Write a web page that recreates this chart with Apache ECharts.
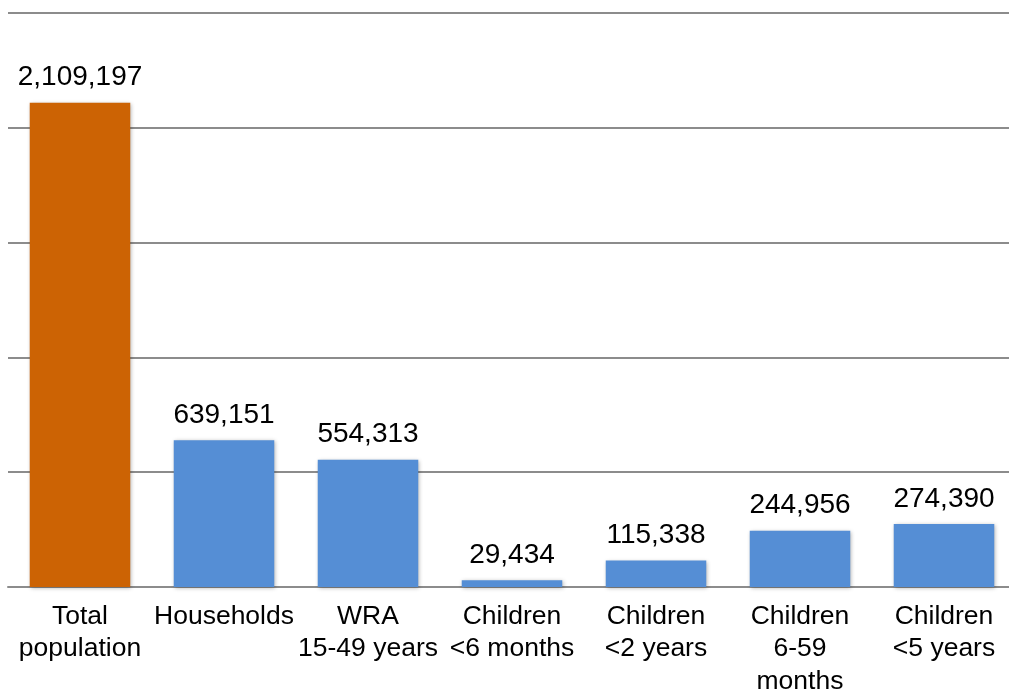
<!DOCTYPE html>
<html>
<head>
<meta charset="utf-8">
<script src="https://cdn.jsdelivr.net/npm/echarts@6/dist/echarts.min.js"></script>
<style>
  html, body { margin: 0; padding: 0; background: #ffffff; overflow: hidden; width: 1009px; height: 691px; }
  #chart { width: 1016px; height: 691px; }
</style>
</head>
<body>
<div id="chart"></div>
<script>
// Population groups covered
const categories = [
  'Total\npopulation',
  'Households',
  'WRA\n15-49 years',
  'Children\n<6 months',
  'Children\n<2 years',
  'Children\n6-59\nmonths',
  'Children\n<5 years'
];
const counts = [2109197, 639151, 554313, 29434, 115338, 244956, 274390];
const barColors = ['#CC6304', '#558ED5', '#558ED5', '#558ED5', '#558ED5', '#558ED5', '#558ED5'];

const fmt = v => v.toLocaleString('en-US');
const FONT = '"Liberation Sans", Arial, sans-serif';

// The plot runs a few pixels past the right edge of the page, so the canvas is a bit wider than the view.
const chart = echarts.init(document.getElementById('chart'), null, { renderer: 'canvas', width: 1016, height: 691 });
chart.setOption({
  animation: false,
  backgroundColor: '#ffffff',
  grid: { left: 8, right: 0, top: 13, bottom: 104, containLabel: false, outerBoundsMode: 'none' },
  xAxis: {
    type: 'category',
    data: categories,
    axisLine: { show: true, lineStyle: { color: '#8c8c8c', width: 2 } },
    axisTick: { show: false },
    axisLabel: {
      interval: 0,
      color: '#000000',
      fontFamily: FONT,
      fontSize: 26.5,
      lineHeight: 32.7,
      margin: 13,
      align: 'center'
    }
  },
  yAxis: {
    type: 'value',
    min: 0,
    max: 2500000,
    interval: 500000,
    axisLine: { show: false },
    axisTick: { show: false },
    axisLabel: { show: false },
    splitLine: { show: true, lineStyle: { color: '#8c8c8c', width: 2 } }
  },
  series: [{
    type: 'bar',
    barWidth: '69.8%',
    data: counts.map((v, i) => ({ value: v, itemStyle: { color: barColors[i] } })),
    itemStyle: {
      shadowColor: 'rgba(0,0,0,0.3)',
      shadowBlur: 4,
      shadowOffsetX: 1,
      shadowOffsetY: 1
    },
    label: {
      show: true,
      position: 'top',
      distance: 11,
      color: '#000000',
      fontFamily: FONT,
      fontSize: 28,
      formatter: p => fmt(p.value)
    }
  }]
});
</script>
</body>
</html>
